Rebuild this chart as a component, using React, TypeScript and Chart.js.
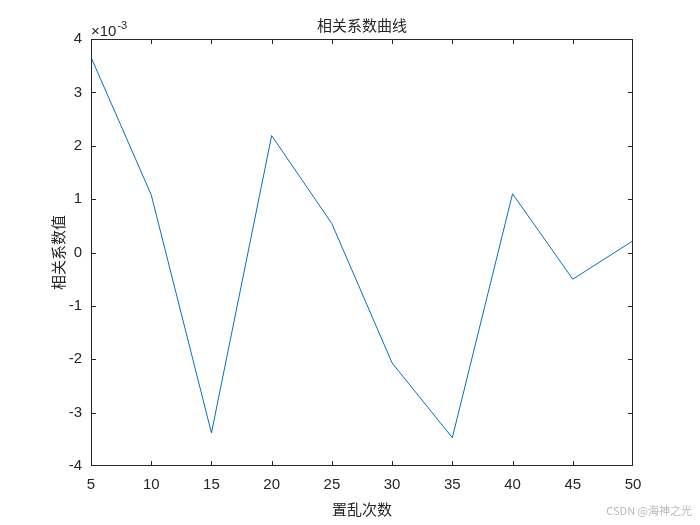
import React, { useEffect, useRef } from "react";
import { Chart, registerables } from "chart.js";

Chart.register(...registerables);

// 置乱次数 (x) vs 相关系数值 (y, in units of 1e-3)
const shuffleCounts = [5, 10, 15, 20, 25, 30, 35, 40, 45, 50];
const corrValues = [3.66, 1.08, -3.38, 2.19, 0.54, -2.07, -3.47, 1.1, -0.5, 0.22];

const xTicks = [5, 10, 15, 20, 25, 30, 35, 40, 45, 50];
const yTicks = [-4, -3, -2, -1, 0, 1, 2, 3, 4];

const AXIS = "#262626";
const LINE = "#0072BD";
const LATIN = "'Liberation Sans', Arial, sans-serif";
const CJK = "'Noto Sans CJK SC', 'Noto Sans', sans-serif";

const matlabFrame = {
  id: "matlabFrame",
  afterDraw(chart: any) {
    const { ctx, chartArea: a, scales } = chart;
    const tick = 5;
    const clamp = (v: number, lo: number, hi: number) => Math.min(Math.max(v, lo), hi);
    ctx.save();
    ctx.strokeStyle = AXIS;
    ctx.lineWidth = 1;
    ctx.strokeRect(a.left + 0.5, a.top + 0.5, a.right - a.left - 1, a.bottom - a.top - 1);
    ctx.beginPath();
    xTicks.forEach((v) => {
      const px = clamp(Math.round(scales.x.getPixelForValue(v)) + 0.5, a.left + 0.5, a.right - 0.5);
      ctx.moveTo(px, a.bottom);
      ctx.lineTo(px, a.bottom - tick);
      ctx.moveTo(px, a.top);
      ctx.lineTo(px, a.top + tick);
    });
    yTicks.forEach((v) => {
      const py = clamp(Math.round(scales.y.getPixelForValue(v)) + 0.5, a.top + 0.5, a.bottom - 0.5);
      ctx.moveTo(a.left, py);
      ctx.lineTo(a.left + tick, py);
      ctx.moveTo(a.right, py);
      ctx.lineTo(a.right - tick, py);
    });
    ctx.stroke();

    ctx.fillStyle = AXIS;
    ctx.textAlign = "center";
    ctx.textBaseline = "middle";
    ctx.font = `15px ${CJK}`;
    // title
    ctx.fillText("相关系数曲线", (a.left + a.right) / 2, 25);
    // x axis title
    ctx.fillText("置乱次数", (a.left + a.right) / 2, 509);
    // y axis title
    ctx.save();
    ctx.translate(58, (a.top + a.bottom) / 2);
    ctx.rotate(-Math.PI / 2);
    ctx.fillText("相关系数值", 0, 0);
    ctx.restore();

    // exponent
    ctx.textAlign = "left";
    ctx.textBaseline = "alphabetic";
    ctx.font = `15px ${LATIN}`;
    ctx.fillText("×10", a.left, 36);
    const w = ctx.measureText("×10").width;
    ctx.font = `11px ${LATIN}`;
    ctx.fillText("-3", a.left + w + 1, 29);

    // watermark
    ctx.fillStyle = "#b8b8b8";
    ctx.textAlign = "right";
    ctx.textBaseline = "middle";
    ctx.font = `11px ${CJK}`;
    ctx.fillText("CSDN @海神之光", 692, 511);
    ctx.restore();
  },
};

export default function App() {
  const canvasRef = useRef<HTMLCanvasElement>(null);

  useEffect(() => {
    document.body.style.margin = "0";
    if (!canvasRef.current) return;
    const chart = new Chart(canvasRef.current, {
      type: "line",
      data: {
        datasets: [
          {
            data: shuffleCounts.map((x, i) => ({ x, y: corrValues[i] })),
            borderColor: LINE,
            borderWidth: 1,
            pointRadius: 0,
            tension: 0,
            fill: false,
          },
        ],
      },
      options: {
        responsive: false,
        animation: false,
        devicePixelRatio: 1,
        layout: { padding: { top: 39, right: 67, left: 0, bottom: 0 } },
        plugins: {
          legend: { display: false },
          tooltip: { enabled: false },
          title: { display: false },
        },
        scales: {
          x: {
            type: "linear",
            min: 5,
            max: 50,
            afterBuildTicks: (s: any) => {
              s.ticks = xTicks.map((value) => ({ value }));
            },
            afterFit: (s: any) => {
              s.height = 59;
            },
            grid: { display: false, drawTicks: false },
            border: { display: false },
            ticks: {
              color: AXIS,
              padding: 10,
              maxRotation: 0,
              autoSkip: false,
              font: { family: LATIN, size: 15 },
            },
          },
          y: {
            type: "linear",
            min: -4,
            max: 4,
            afterBuildTicks: (s: any) => {
              s.ticks = yTicks.map((value) => ({ value }));
            },
            afterFit: (s: any) => {
              s.width = 91;
            },
            grid: { display: false, drawTicks: false },
            border: { display: false },
            ticks: {
              color: AXIS,
              padding: 9,
              autoSkip: false,
              font: { family: LATIN, size: 15 },
            },
          },
        },
      },
      plugins: [matlabFrame],
    });
    return () => chart.destroy();
  }, []);

  return (
    <div style={{ width: 700, height: 525, background: "#fff" }}>
      <canvas ref={canvasRef} width={700} height={525} />
    </div>
  );
}
